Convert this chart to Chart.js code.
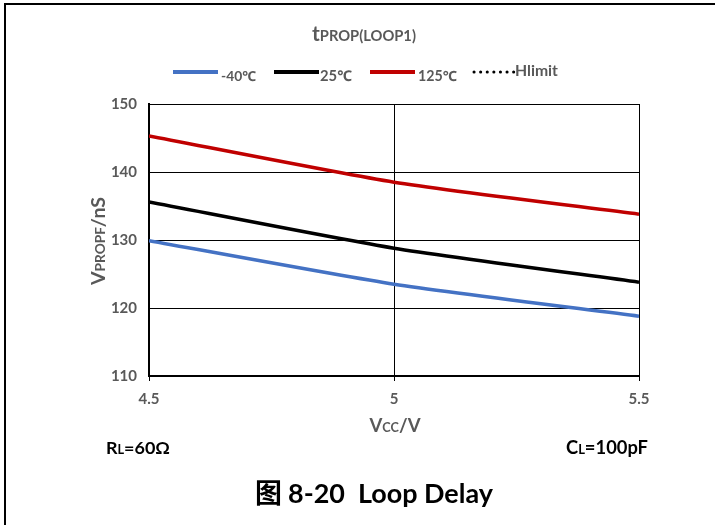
<!DOCTYPE html>
<html><head><meta charset="utf-8">
<script src="https://cdn.jsdelivr.net/npm/chart.js@4"></script>
<style>html,body{margin:0;padding:0;background:#fff}#wrap{width:715px;height:525px;position:relative}</style>
</head><body><div id="wrap"><canvas id="c" width="715" height="525"></canvas></div>
<script>
const vcc = [4.5, 5, 5.5];
const seriesLabels = ['-40℃', '25℃', '125℃', 'Hlimit'];
const tM40 = [129.9, 123.5, 118.8];
const t25 = [135.6, 128.8, 123.8];
const t125 = [145.3, 138.5, 133.8];
const hlimit = [];
const xTicks = [4.5, 5, 5.5];
const yTicks = [110, 120, 130, 140, 150];

const FONT = 'Lato, "Noto Sans", sans-serif';
const GRAY = '#595959';
const colors = ['#4472C4', '#000000', '#C00000', '#000000'];

function pts(arr){ return arr.map((v,i)=>({x:vcc[i], y:v})); }

function runs(ctx, parts, x, y, align, targetW){
  const fontOf = (p,k)=>'bold ' + (p.size*k) + 'px ' + (p.family||FONT);
  let w = 0;
  parts.forEach(p=>{ ctx.font = fontOf(p,1); w += ctx.measureText(p.text).width; });
  const k = targetW ? targetW / w : 1;
  w *= k;
  let cx = align==='center' ? x - w/2 : (align==='right' ? x - w : x);
  parts.forEach(p=>{ ctx.font = fontOf(p,k); ctx.fillText(p.text, cx, y + (p.dy||0)); cx += ctx.measureText(p.text).width; });
}

const decor = {
  id:'decor',
  afterDraw(chart){
    const ctx = chart.ctx;
    ctx.save();
    ctx.strokeStyle = '#000'; ctx.lineWidth = 2;
    ctx.beginPath(); ctx.moveTo(5, 525); ctx.lineTo(5, 4); ctx.lineTo(715, 4); ctx.stroke();
    ctx.textBaseline = 'alphabetic';
    ctx.fillStyle = GRAY;
    runs(ctx, [{text:'t', size:20},{text:'PROP(LOOP1)', size:14}], 364, 41, 'center', 104);
    const items = [
      {x:173, tx:221, w:35},{x:274, tx:320, w:32},{x:370, tx:418, w:39},{x:474, tx:515, w:43}
    ];
    chart.data.datasets.forEach((ds, i)=>{
      const it = items[i];
      ctx.save();
      ctx.strokeStyle = ds.borderColor;
      if (ds.borderDash && ds.borderDash.length){
        ctx.lineWidth = 3; ctx.lineCap = 'round'; ctx.setLineDash([0.1, 6.5]);
      } else { ctx.lineWidth = 4; ctx.lineCap = 'butt'; }
      ctx.beginPath(); ctx.moveTo(it.x, 72); ctx.lineTo(it.x + 45, 72); ctx.stroke();
      ctx.restore();
      ctx.fillStyle = GRAY;
      runs(ctx, [{text:ds.label, size:14}], it.tx, i===3 ? 76 : 81, 'left', it.w);
    });
    ctx.save();
    ctx.translate(105, 241); ctx.rotate(-Math.PI/2);
    runs(ctx, [{text:'V', size:20},{text:'PROPF', size:14},{text:'/nS', size:20}], 0, 0, 'center', 88);
    ctx.restore();
    runs(ctx, [{text:'V', size:19},{text:'CC', size:13},{text:'/V', size:19}], 395, 432, 'center', 51);
    ctx.fillStyle = '#000';
    runs(ctx, [{text:'R', size:17},{text:'L', size:12},{text:'=60Ω', size:17}], 106, 454, 'left', 64);
    runs(ctx, [{text:'C', size:17},{text:'L', size:12},{text:'=100pF', size:17}], 648, 454, 'right', 82);
    runs(ctx, [{text:'图 ', size:27, family:'"Noto Sans CJK SC", sans-serif'},{text:'8-20  Loop Delay', size:27}], 374, 503, 'center', 238);
    ctx.restore();
  }
};

new Chart(document.getElementById('c'), {
  type:'line',
  data:{
    datasets:[
      {label:seriesLabels[0], data:pts(tM40), borderColor:colors[0], backgroundColor:colors[0], borderWidth:3.5, tension:0.2, pointRadius:0},
      {label:seriesLabels[1], data:pts(t25), borderColor:colors[1], backgroundColor:colors[1], borderWidth:3.5, tension:0.2, pointRadius:0},
      {label:seriesLabels[2], data:pts(t125), borderColor:colors[2], backgroundColor:colors[2], borderWidth:3.5, tension:0.2, pointRadius:0},
      {label:seriesLabels[3], data:hlimit, borderColor:colors[3], backgroundColor:colors[3], borderWidth:3, borderDash:[1,5], pointRadius:0}
    ]
  },
  options:{
    responsive:false, animation:false,
    layout:{padding:{left:0, top:104, right:76, bottom:89}},
    plugins:{legend:{display:false}, title:{display:false}, tooltip:{enabled:false}},
    scales:{
      x:{type:'linear', min:4.5, max:5.5,
        afterBuildTicks(s){ s.ticks = xTicks.map(v=>({value:v})); },
        afterFit(s){ s.height = 60; },
        border:{color:'#000', width:2},
        grid:{color:'#000', lineWidth:1, drawTicks:true, tickLength:5, tickColor:'#000'},
        ticks:{color:GRAY, font:{family:FONT, size:15, weight:'bold'}, padding:9, maxRotation:0, callback:v=>String(v)}
      },
      y:{min:110, max:150,
        afterBuildTicks(s){ s.ticks = yTicks.map(v=>({value:v})); },
        afterFit(s){ s.width = 149; },
        border:{color:'#000', width:2},
        grid:{color:'#000', lineWidth:1, drawTicks:false},
        ticks:{color:GRAY, font:{family:FONT, size:15, weight:'bold'}, padding:12}
      }
    }
  },
  plugins:[decor]
});
</script></body></html>
